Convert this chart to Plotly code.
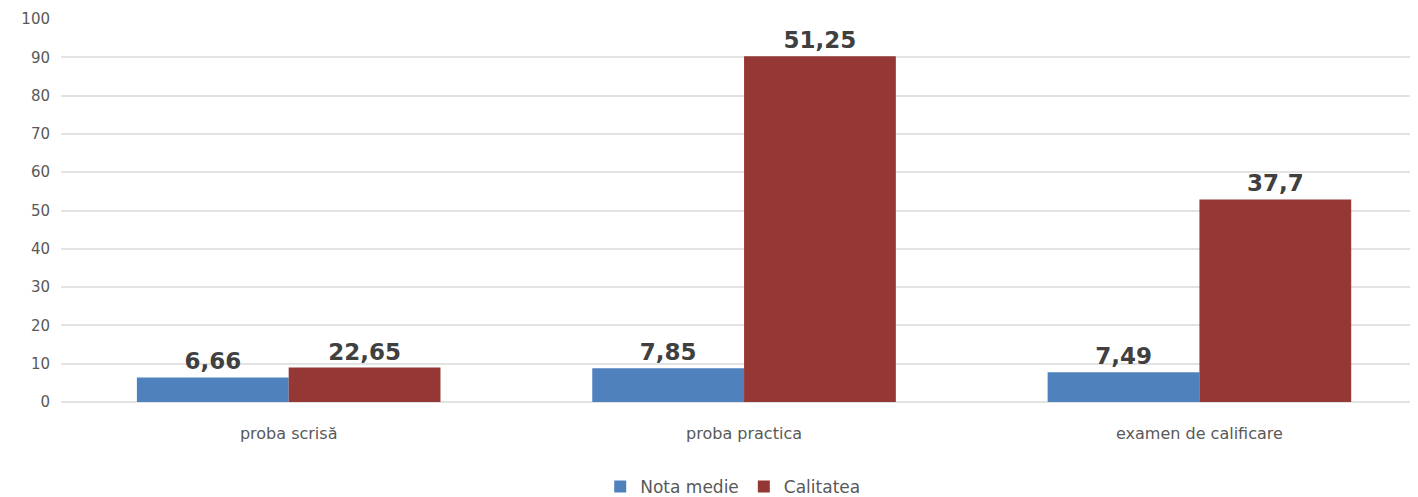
import plotly.graph_objects as go

categories = ["proba scrisă", "proba practica", "examen de calificare"]
nota_heights = [6.4, 8.8, 7.8]
nota_labels = ["6,66", "7,85", "7,49"]
calit_heights = [9.0, 90.3, 52.9]
calit_labels = ["22,65", "51,25", "37,7"]
y_ticks = list(range(0, 101, 10))

FONT = "DejaVu Sans"

fig = go.Figure()
fig.add_trace(go.Bar(
    name="Nota medie", x=categories, y=nota_heights,
    text=nota_labels, textposition="outside", cliponaxis=False,
    marker=dict(color="#4F81BD", line=dict(width=0)),
    textfont=dict(family=FONT, size=23, color="#404040", weight="bold"),
))
fig.add_trace(go.Bar(
    name="Calitatea", x=categories, y=calit_heights,
    text=calit_labels, textposition="outside", cliponaxis=False,
    marker=dict(color="#953735", line=dict(width=0)),
    textfont=dict(family=FONT, size=23, color="#404040", weight="bold"),
))

fig.update_layout(
    width=1410, height=489,
    margin=dict(l=53, r=0, t=11, b=95, autoexpand=False),
    paper_bgcolor="white", plot_bgcolor="white",
    barmode="group", bargap=1/3, bargroupgap=0,
    font=dict(family=FONT, color="#595959", size=16),
    showlegend=True,
    legend=dict(orientation="h", x=0.495, xanchor="center", y=-0.222, yanchor="middle",
                font=dict(family=FONT, size=17, color="#595959"),
                itemwidth=30, traceorder="normal"),
)
fig.update_xaxes(range=[-0.5, 2.48], showgrid=False, showline=False, ticks="",
                 automargin=False, ticklabelstandoff=20,
                 tickfont=dict(family=FONT, size=16, color="#595959"))
fig.update_yaxes(range=[0, 100], tickvals=y_ticks, showgrid=True, gridcolor="#E3E3E3",
                 gridwidth=1.5, zeroline=True, zerolinecolor="#E3E3E3", zerolinewidth=1.5,
                 automargin=False,
                 tickfont=dict(family=FONT, size=15, color="#595959"), ticklabelstandoff=10)

fig.write_html("out.html")
